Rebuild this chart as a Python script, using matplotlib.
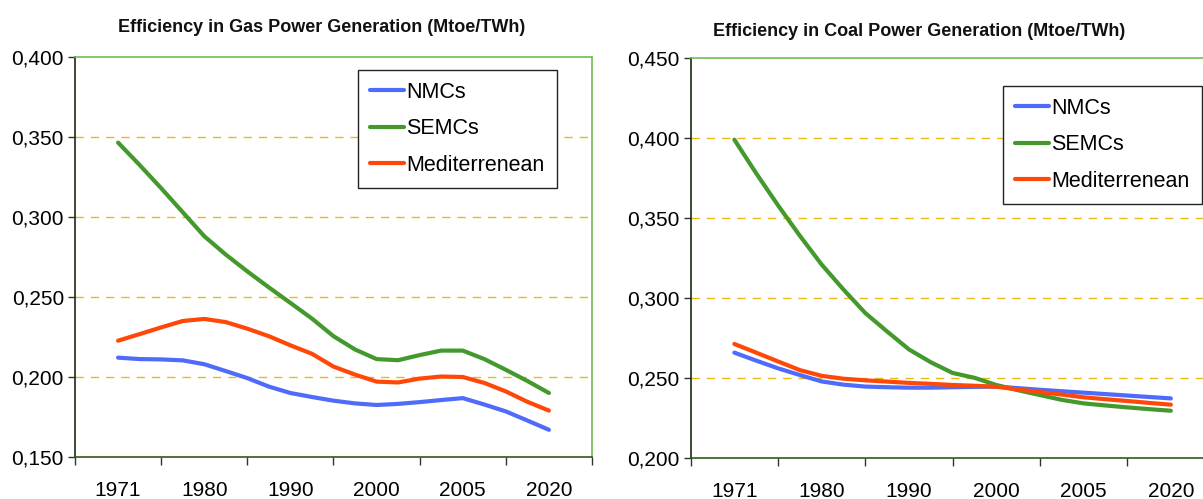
import numpy as np
import matplotlib
matplotlib.use("Agg")
import matplotlib.pyplot as plt
from matplotlib.ticker import FixedLocator, FuncFormatter, NullFormatter

plt.rcParams['font.family'] = ['Liberation Sans', 'DejaVu Sans']

categories = ['1971', '1980', '1990', '2000', '2005', '2020']
series_names = ['NMCs', 'SEMCs', 'Mediterrenean']

# values sampled every quarter category along the smoothed curves
gas_nmcs = [0.2121, 0.2112, 0.2110, 0.2104, 0.2080, 0.2037, 0.1993, 0.1940, 0.1900, 0.1875, 0.1852,
            0.1835, 0.1825, 0.1832, 0.1843, 0.1856, 0.1868, 0.1828, 0.1785, 0.1728, 0.1670]
gas_semcs = [0.3465, 0.3325, 0.3180, 0.3030, 0.2880, 0.2765, 0.2660, 0.2560, 0.2463, 0.2365, 0.2255,
             0.2172, 0.2112, 0.2105, 0.2137, 0.2165, 0.2165, 0.2112, 0.2045, 0.1975, 0.1900]
gas_med = [0.2227, 0.2268, 0.2310, 0.2350, 0.2363, 0.2343, 0.2302, 0.2255, 0.2198, 0.2145, 0.2065,
           0.2015, 0.1971, 0.1966, 0.1990, 0.2003, 0.2000, 0.1963, 0.1910, 0.1845, 0.1790]

coal_nmcs = [0.2660, 0.2610, 0.2562, 0.2520, 0.2480, 0.2460, 0.2448, 0.2444, 0.2441, 0.2441, 0.2444,
             0.2446, 0.2448, 0.2438, 0.2428, 0.2419, 0.2410, 0.2401, 0.2392, 0.2383, 0.2374]
coal_semcs = [0.3990, 0.3780, 0.3580, 0.3390, 0.3210, 0.3054, 0.2907, 0.2792, 0.2680, 0.2600, 0.2533,
              0.2503, 0.2458, 0.2425, 0.2395, 0.2365, 0.2343, 0.2330, 0.2318, 0.2307, 0.2297]
coal_med = [0.2714, 0.2660, 0.2605, 0.2551, 0.2515, 0.2497, 0.2487, 0.2479, 0.2471, 0.2465, 0.2458,
            0.2453, 0.2447, 0.2430, 0.2414, 0.2398, 0.2381, 0.2369, 0.2358, 0.2346, 0.2335]

gas_title = 'Efficiency in Gas Power Generation (Mtoe/TWh)'
coal_title = 'Efficiency in Coal Power Generation (Mtoe/TWh)'
gas_yticks = [0.150, 0.200, 0.250, 0.300, 0.350, 0.400]
coal_yticks = [0.200, 0.250, 0.300, 0.350, 0.400, 0.450]

colors = ['#4F6BFA', '#43992B', '#FF4808']

W, H = 1203, 499
fig = plt.figure(figsize=(W / 100, H / 100), dpi=100)


def make_panel(rect, title, title_xy, yticks, data, legend_xy):
    ax = fig.add_axes(rect)
    n = len(data[0])
    xs = np.arange(n) / ((n - 1) / (len(categories) - 1))
    for vals, c, name in zip(data, colors, series_names):
        ax.plot(xs, vals, color=c, lw=3.0, solid_capstyle='round', label=name, zorder=3)
    ax.set_xlim(-0.5, len(categories) - 0.5)
    ax.set_ylim(yticks[0], yticks[-1])
    ax.yaxis.set_major_locator(FixedLocator(yticks))
    ax.yaxis.set_major_formatter(FuncFormatter(lambda v, p: f'{v:.3f}'.replace('.', ',')))
    for yv in yticks[1:-1]:
        ax.axhline(yv, color='#EBBA15', lw=1.0, dashes=(6, 5), zorder=1)
    ax.xaxis.set_major_locator(FixedLocator(np.arange(len(categories) + 1) - 0.5))
    ax.xaxis.set_major_formatter(NullFormatter())
    ax.xaxis.set_minor_locator(FixedLocator(np.arange(len(categories))))
    ax.set_xticklabels(categories, minor=True)
    ax.tick_params(axis='x', which='major', length=6, width=1, color='#333333', direction='out')
    ax.tick_params(axis='x', which='minor', length=0, pad=17, labelsize=15)
    ax.tick_params(axis='y', which='major', length=5, width=1, color='#333333', pad=3, labelsize=15)
    ax.spines['left'].set_color('#1A2A10')
    ax.spines['bottom'].set_color('#2C5A1C')
    ax.spines['top'].set_color('#6CBF4E')
    ax.spines['right'].set_color('#6CBF4E')
    for s in ax.spines.values():
        s.set_linewidth(1.2)
    fig.text(title_xy[0] / W, 1 - title_xy[1] / H, title, ha='center', va='center',
             fontsize=13, fontweight='bold', color='#111111')
    leg = ax.legend(loc='upper left', bbox_to_anchor=(legend_xy[0] / W, 1 - legend_xy[1] / H),
                    bbox_transform=fig.transFigure, fontsize=15.5, frameon=True, fancybox=False,
                    edgecolor='#222222', handlelength=1.6, handletextpad=0.1, labelspacing=0.72,
                    borderpad=0.55, borderaxespad=0, framealpha=1)
    leg.get_frame().set_linewidth(1.0)
    for line in leg.get_lines():
        line.set_linewidth(3.0)
    return ax


make_panel([75 / W, 42 / H, 517 / W, 400 / H], gas_title, (322, 27), gas_yticks,
           [gas_nmcs, gas_semcs, gas_med], (358, 70))
make_panel([690.7 / W, 40.7 / H, 523.8 / W, 400.3 / H], coal_title, (919, 31), coal_yticks,
           [coal_nmcs, coal_semcs, coal_med], (1003, 86))

fig.savefig('out.png', dpi=100)
